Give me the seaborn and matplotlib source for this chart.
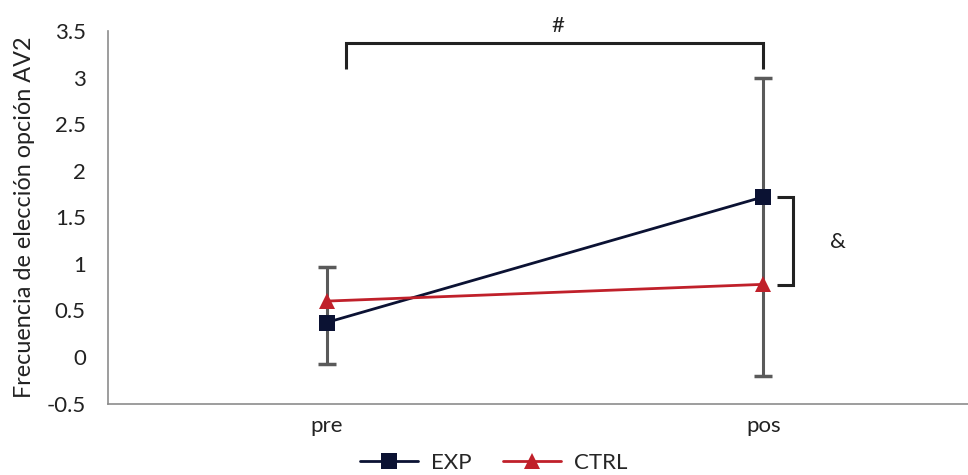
import matplotlib
matplotlib.use("Agg")
import matplotlib.pyplot as plt
import seaborn as sns
import pandas as pd
from matplotlib.lines import Line2D

# ---- data ----
categories = ["pre", "pos"]
exp_values = [0.37, 1.72]
ctrl_values = [0.60, 0.78]
err_low = [-0.08, -0.20]
err_high = [0.97, 3.00]
series_names = ["EXP", "CTRL"]
y_ticks = [-0.5, 0, 0.5, 1, 1.5, 2, 2.5, 3, 3.5]
y_ticklabels = ["-0.5", "0", "0.5", "1", "1.5", "2", "2.5", "3", "3.5"]
ylabel = "Frecuencia de elección opción AV2"
sig_top = "#"
sig_right = "&"

df = pd.DataFrame({
    "cond": categories * 2,
    "value": exp_values + ctrl_values,
    "group": [series_names[0]] * 2 + [series_names[1]] * 2,
})

sns.set_theme(style="white")
plt.rcParams["font.family"] = ["Lato", "DejaVu Sans"]

navy = "#0b1233"
red = "#c0202a"
gray = "#5a5a5a"
txt = "#222222"

fig = plt.figure(figsize=(9.68, 4.75), dpi=100)
ax = fig.add_axes([0.1116, 0.1505, 0.8884, 0.784])

# error bars (gray) behind
xpos = list(range(len(categories)))
mid = [(l + h) / 2 for l, h in zip(err_low, err_high)]
half = [(h - l) / 2 for l, h in zip(err_low, err_high)]
ax.errorbar(xpos, mid, yerr=half, fmt="none", ecolor=gray, elinewidth=2.2,
            capsize=6.5, capthick=2.5, zorder=1)

sns.lineplot(data=df, x="cond", y="value", hue="group", style="group",
             palette={"EXP": navy, "CTRL": red},
             markers={"EXP": "s", "CTRL": "^"}, dashes=False,
             markersize=12, markeredgewidth=0, linewidth=2,
             legend=False, ax=ax, zorder=3, sort=False)

ax.set_xlim(-0.5, 1.468)
ax.set_ylim(-0.5, 3.5)
ax.set_yticks(y_ticks)
ax.set_yticklabels(y_ticklabels)
ax.set_xticks(xpos)
ax.set_xticklabels(categories)
ax.tick_params(axis="both", length=0, labelsize=16, colors=txt)
ax.tick_params(axis="y", pad=16)
ax.tick_params(axis="x", pad=9)
ax.set_xlabel("")
ax.set_ylabel(ylabel, fontsize=16.8, color=txt, labelpad=8)

for s in ["top", "right"]:
    ax.spines[s].set_visible(False)
for s in ["left", "bottom"]:
    ax.spines[s].set_color("#8c8c8c")
    ax.spines[s].set_linewidth(1.2)

# significance brackets
bk = "#222222"
ax.plot([0.045, 0.045, 1.0, 1.0], [3.09, 3.37, 3.37, 3.09], color=bk, lw=2.2,
        solid_capstyle="butt", solid_joinstyle="miter", clip_on=False)
ax.text(0.53, 3.45, sig_top, ha="center", va="bottom", fontsize=16, color=bk)
ax.plot([1.032, 1.068, 1.068, 1.032], [1.72, 1.72, 0.77, 0.77], color=bk, lw=2.2,
        solid_capstyle="butt", solid_joinstyle="miter", clip_on=False)
ax.text(1.17, 1.23, sig_right, ha="center", va="center", fontsize=16, color=bk)

handles = [
    Line2D([], [], color=navy, marker="s", markersize=11, markeredgewidth=0, lw=2),
    Line2D([], [], color=red, marker="^", markersize=11, markeredgewidth=0, lw=2),
]
fig.legend(handles, series_names, loc="lower center", bbox_to_anchor=(0.51, -0.037),
           ncol=2, frameon=False, fontsize=16, handlelength=2.6, columnspacing=1.4,
           handletextpad=0.6)

fig.savefig("out.png", dpi=100)
